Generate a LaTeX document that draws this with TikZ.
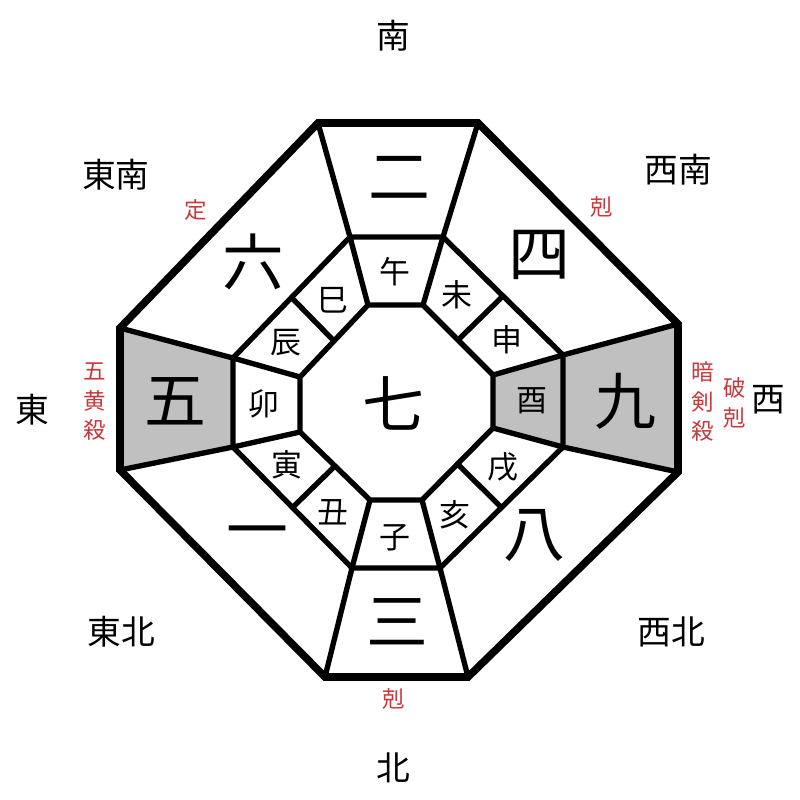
\documentclass[tikz,border=0pt]{standalone}
\usepackage{fontspec}
\setmainfont{Noto Sans CJK JP}
\usepackage{tikz}
\usetikzlibrary{calc}
\definecolor{palacegray}{RGB}{192,192,192}
\definecolor{omenred}{RGB}{200,55,60}
\tikzset{
  rimline/.style={line width=5.4pt, line join=miter},
  cellline/.style={line width=3.8pt, line join=round},
  palace/.style={font=\fontsize{44}{44}\selectfont, inner sep=0pt},
  branchlabel/.style={font=\fontsize{22}{22}\selectfont, inner sep=0pt},
  dirlabel/.style={font=\fontsize{24}{24}\selectfont, inner sep=0pt},
  omenlabel/.style={font=\fontsize{16}{21}\selectfont, text=omenred, inner sep=0pt, align=center}
}

\begin{document}
\begin{tikzpicture}[x=0.25mm, y=-0.25mm]
  \useasboundingbox (0,0) rectangle (800,800);

  % Outer rim (clockwise from top-left)
  \coordinate (o1) at (318,123);
  \coordinate (o2) at (478,123);
  \coordinate (o3) at (678,324);
  \coordinate (o4) at (678,472);
  \coordinate (o5) at (468,677);
  \coordinate (o6) at (325,677);
  \coordinate (o7) at (120,470);
  \coordinate (o8) at (120,328);

  % Middle ring
  \coordinate (m1) at (350,237);
  \coordinate (m2) at (443,237);
  \coordinate (m3) at (563,355);
  \coordinate (m4) at (563,447);
  \coordinate (m5) at (440,568);
  \coordinate (m6) at (352,568);
  \coordinate (m7) at (233,447);
  \coordinate (m8) at (233,358);

  % Centre octagon
  \coordinate (i1) at (368,305);
  \coordinate (i2) at (423,305);
  \coordinate (i3) at (493,375);
  \coordinate (i4) at (493,428);
  \coordinate (i5) at (422,500);
  \coordinate (i6) at (370,500);
  \coordinate (i7) at (300,432);
  \coordinate (i8) at (300,377);

  % Shaded cells
  \fill[palacegray] (o8) -- (m8) -- (m7) -- (o7) -- cycle;
  \fill[palacegray] (m3) -- (o3) -- (o4) -- (m4) -- cycle;
  \fill[palacegray] (i3) -- (m3) -- (m4) -- (i4) -- cycle;

  % Cell walls
  \draw[cellline] (m1) -- (m2) -- (m3) -- (m4) -- (m5) -- (m6) -- (m7) -- (m8) -- cycle;
  \draw[cellline] (i1) -- (i2) -- (i3) -- (i4) -- (i5) -- (i6) -- (i7) -- (i8) -- cycle;
  \foreach \k in {1,...,8}
    \draw[cellline] (i\k) -- (m\k) -- (o\k);
  \foreach \a/\b in {2/3,4/5,6/7,8/1}
    \draw[cellline] ($(i\a)!.5!(i\b)$) -- ($(m\a)!.5!(m\b)$);

  % Outer rim
  \draw[rimline] (o1) -- (o2) -- (o3) -- (o4) -- (o5) -- (o6) -- (o7) -- (o8) -- cycle;

  % Palace numbers
  \node[palace] (p2) at (399,178) {二};
  \node[palace] (p4) at (539,255) {四};
  \node[palace] (p6) at (253,262) {六};
  \node[palace] (p5) at (175,401) {五};
  \node[palace] (p7) at (393,403) {七};
  \node[palace] (p9) at (625,401) {九};
  \node[palace] (p1) at (257,539) {一};
  \node[palace] (p8) at (534,536) {八};
  \node[palace] (p3) at (397,622) {三};

  % Twelve branches
  \node[branchlabel] (brUma)  at (395,272) {午};
  \node[branchlabel] (brHitsuji) at (457,295) {未};
  \node[branchlabel] (brSaru) at (507,340) {申};
  \node[branchlabel] (brTori) at (532,401) {酉};
  \node[branchlabel] (brInu)  at (503,467) {戌};
  \node[branchlabel] (brI)    at (455,515) {亥};
  \node[branchlabel] (brNe)   at (395,538) {子};
  \node[branchlabel] (brUshi) at (333,512) {丑};
  \node[branchlabel] (brTora) at (287,465) {寅};
  \node[branchlabel] (brU)    at (264,404) {卯};
  \node[branchlabel] (brTatsu) at (286,343) {辰};
  \node[branchlabel] (brMi)   at (333,300) {巳};

  % Directions
  \node[dirlabel] (dirS)  at (393,36)  {南};
  \node[dirlabel] (dirSE) at (116,175) {東南};
  \node[dirlabel] (dirSW) at (678,170) {西南};
  \node[dirlabel] (dirE)  at (32,410)  {東};
  \node[dirlabel] (dirW)  at (768,400) {西};
  \node[dirlabel] (dirNE) at (121,632) {東北};
  \node[dirlabel] (dirNW) at (671,632) {西北};
  \node[dirlabel] (dirN)  at (393,768) {北};

  % Omens
  \node[omenlabel] (teiSE) at (196,210) {定};
  \node[omenlabel] (kokuSW) at (602,207) {剋};
  \node[omenlabel] (kokuN) at (394,699) {剋};
  \node[omenlabel] (gooh) at (95,402) {五\\黄\\殺};
  \node[omenlabel] (anken) at (703,402) {暗\\剣\\殺};
  \node[omenlabel] (hakoku) at (735,403) {破\\剋};
\end{tikzpicture}
\end{document}
